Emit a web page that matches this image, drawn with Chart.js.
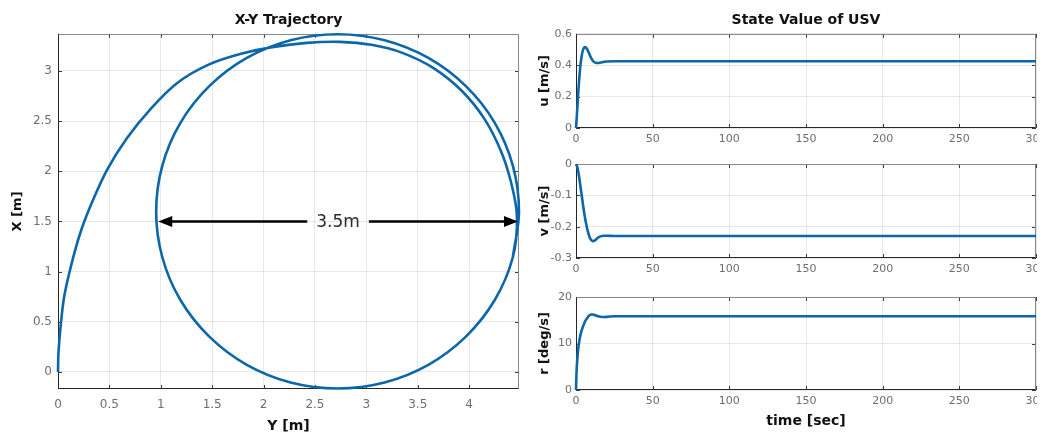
<!DOCTYPE html>
<html>
<head>
<meta charset="utf-8">
<script src="https://cdn.jsdelivr.net/npm/chart.js@4.4.1/dist/chart.umd.min.js"></script>
<style>
  html, body { margin: 0; padding: 0; background: #fff; width: 1043px; height: 436px; overflow: hidden; position: relative; }
  canvas { position: absolute; }
</style>
</head>
<body>
<canvas id="xy" width="530" height="436" style="left:0px;top:0px;width:530px;height:436px"></canvas>
<canvas id="cu" width="507" height="150" style="left:530px;top:0px;width:507px;height:150px"></canvas>
<canvas id="cv" width="507" height="130" style="left:530px;top:150px;width:507px;height:130px"></canvas>
<canvas id="cr" width="507" height="156" style="left:530px;top:280px;width:507px;height:156px"></canvas>
<script>
// ---- X-Y trajectory of the USV (Y east, X north, metres) ----
// start-up arc from the origin, then one full steady turning circle
const pathY = [0, 0.005, 0.025, 0.06, 0.125, 0.215, 0.335, 0.48, 0.67, 0.9, 1.16, 1.46, 1.78, 2.1, 2.42, 2.74, 3.05, 3.35, 3.65, 3.93, 4.15, 4.31, 4.41, 4.465,
  4.425, 4.249, 3.968, 3.603, 3.177, 2.72, 2.263, 1.837, 1.472, 1.191, 1.015, 0.955,
  1.015, 1.191, 1.472, 1.837, 2.263, 2.72, 3.177, 3.603, 3.968, 4.249, 4.425, 4.485, 4.425];
const pathX = [0, 0.2, 0.45, 0.75, 1.05, 1.38, 1.7, 2.02, 2.33, 2.62, 2.88, 3.06, 3.17, 3.24, 3.28, 3.29, 3.26, 3.18, 3.03, 2.8, 2.52, 2.2, 1.88, 1.55,
  1.143, 0.717, 0.352, 0.071, -0.105, -0.165, -0.105, 0.071, 0.352, 0.717, 1.143, 1.6,
  2.057, 2.483, 2.848, 3.129, 3.305, 3.365, 3.305, 3.129, 2.848, 2.483, 2.057, 1.6, 1.143];
const ticksYm = [0, 0.5, 1, 1.5, 2, 2.5, 3, 3.5, 4];
const ticksXm = [0, 0.5, 1, 1.5, 2, 2.5, 3];

// diameter marker across the steady circle
const diameterAtX = 1.5;
const diameterStartY = 0.975;
const diameterLength = 3.5;

// ---- state values over time ----
const timeU = [0, 0.5, 1, 1.5, 2, 2.5, 3, 4, 5, 6, 7, 8, 9, 10, 11, 12, 13, 14, 16, 18, 20, 25, 30, 300];
const surgeU = [0, 0.07, 0.15, 0.23, 0.3, 0.36, 0.41, 0.475, 0.508, 0.515, 0.506, 0.487, 0.464, 0.443, 0.428, 0.419, 0.415, 0.414, 0.417, 0.421, 0.424, 0.425, 0.425, 0.425];
const timeV = [0, 1, 2, 3, 4, 5, 6, 7, 8, 9, 10, 11, 12, 13, 14, 16, 18, 20, 25, 30, 300];
const swayV = [0, -0.012, -0.04, -0.075, -0.11, -0.145, -0.175, -0.2, -0.22, -0.235, -0.243, -0.246, -0.245, -0.241, -0.236, -0.231, -0.229, -0.229, -0.23, -0.23, -0.23];
const timeR = [0, 0.3, 0.7, 1.5, 2.5, 3.5, 5, 6, 7, 8, 9, 10, 11, 12, 14, 16, 18, 20, 22, 25, 30, 300];
const yawR = [0, 3.5, 6, 9, 11.2, 12.6, 14, 14.8, 15.3, 15.8, 16.1, 16.25, 16.25, 16.15, 15.9, 15.75, 15.7, 15.72, 15.8, 15.85, 15.85, 15.85];
const ticksTime = [0, 50, 100, 150, 200, 250, 300];
const ticksU = [0, 0.2, 0.4, 0.6];
const ticksV = [-0.3, -0.2, -0.1, 0];
const ticksR = [0, 10, 20];

const BLUE = '#0b67a9';
const FONT = 'DejaVu Sans';
Chart.defaults.font.family = FONT;

const fmt = v => String(+Number(v).toFixed(3));
const toPoints = (xs, ys) => xs.map((x, i) => ({ x, y: ys[i] }));

// axes frame with inward tick marks on all four sides
const axesBox = {
  id: 'axesBox',
  beforeDatasetsDraw(chart) {
    const { ctx, chartArea: a, scales: { x, y } } = chart;
    ctx.save();
    ctx.lineWidth = 1;
    ctx.strokeStyle = '#3a3a3a';
    ctx.beginPath();
    x.ticks.forEach(t => {
      const px = Math.round(x.getPixelForValue(t.value)) + 0.5;
      ctx.moveTo(px, a.bottom); ctx.lineTo(px, a.bottom - 4);
      ctx.moveTo(px, a.top); ctx.lineTo(px, a.top + 4);
    });
    y.ticks.forEach(t => {
      const py = Math.round(y.getPixelForValue(t.value)) + 0.5;
      ctx.moveTo(a.left, py); ctx.lineTo(a.left + 4, py);
      ctx.moveTo(a.right, py); ctx.lineTo(a.right - 4, py);
    });
    ctx.stroke();
    const L = Math.round(a.left) + 0.5, R = Math.round(a.right) - 0.5;
    const T = Math.round(a.top) + 0.5, B = Math.round(a.bottom) - 0.5;
    ctx.strokeStyle = '#888';
    ctx.beginPath();
    ctx.moveTo(L, T); ctx.lineTo(R, T); ctx.lineTo(R, B);
    ctx.stroke();
    ctx.strokeStyle = '#262626';
    ctx.beginPath();
    ctx.moveTo(L, T); ctx.lineTo(L, B); ctx.lineTo(R, B);
    ctx.stroke();
    ctx.restore();
  }
};

// double-headed arrow with its length written in the middle
const diameterArrow = {
  id: 'diameterArrow',
  afterDatasetsDraw(chart) {
    const { ctx, scales: { x, y } } = chart;
    const x0 = x.getPixelForValue(diameterStartY);
    const x1 = x.getPixelForValue(diameterStartY + diameterLength);
    const py = y.getPixelForValue(diameterAtX);
    const label = diameterLength + 'm';
    const head = 14, half = 5.5;
    ctx.save();
    ctx.font = '17px ' + FONT;
    const tw = ctx.measureText(label).width;
    const mid = (x0 + x1) / 2;
    const gap = tw / 2 + 9;
    ctx.strokeStyle = '#000';
    ctx.fillStyle = '#000';
    ctx.lineWidth = 2.5;
    ctx.beginPath();
    ctx.moveTo(x0 + head - 1, py); ctx.lineTo(mid - gap, py);
    ctx.moveTo(mid + gap, py); ctx.lineTo(x1 - head + 1, py);
    ctx.stroke();
    ctx.beginPath();
    ctx.moveTo(x0, py); ctx.lineTo(x0 + head, py - half); ctx.lineTo(x0 + head, py + half); ctx.closePath();
    ctx.moveTo(x1, py); ctx.lineTo(x1 - head, py - half); ctx.lineTo(x1 - head, py + half); ctx.closePath();
    ctx.fill();
    ctx.fillStyle = '#2a2a2a';
    ctx.textAlign = 'center';
    ctx.textBaseline = 'middle';
    ctx.fillText(label, mid, py + 1);
    ctx.restore();
  }
};

function axis(opts) {
  return {
    type: 'linear',
    min: opts.min, max: opts.max,
    afterBuildTicks: s => { s.ticks = opts.ticks.map(v => ({ value: v })); },
    afterFit: s => {
      if (opts.width !== undefined) s.width = opts.width;
      if (opts.height !== undefined) s.height = opts.height;
      if (opts.noEdgePad) { s.paddingLeft = 0; s.paddingRight = 0; }
    },
    ticks: { callback: fmt, color: '#6e6e6e', font: { size: opts.tickSize, family: FONT }, padding: opts.tickPad, maxRotation: 0, autoSkip: false },
    grid: { color: 'rgba(0,0,0,0.09)', drawTicks: false, lineWidth: 1 },
    border: { display: false },
    title: opts.title ? { display: true, text: opts.title, color: '#111', font: { size: opts.titleSize, weight: 'bold', family: FONT }, padding: opts.titlePad } : { display: false }
  };
}

function seriesSet(points, tension, mode) {
  return {
    data: points, showLine: true, borderColor: BLUE, backgroundColor: BLUE,
    borderWidth: 2.6, pointRadius: 0, fill: false, tension: tension,
    cubicInterpolationMode: mode, clip: 4
  };
}

function baseOptions(padding, title) {
  return {
    responsive: false, animation: false, events: [],
    layout: { padding },
    elements: { line: { capBezierPoints: false } },
    plugins: {
      legend: { display: false },
      tooltip: { enabled: false },
      title: title ? { display: true, fullSize: false, text: title, color: '#111', font: { size: 14, weight: 'bold', family: FONT }, padding: { top: 12, bottom: 5 } } : { display: false }
    }
  };
}

// X-Y trajectory
const xyOpts = baseOptions({ left: 0, right: 11, top: 0, bottom: 0 }, 'X-Y Trajectory');
xyOpts.scales = {
  x: axis({ min: 0, max: 4.485, ticks: ticksYm, height: 47, tickSize: 12, tickPad: 9, title: 'Y [m]', titleSize: 14, titlePad: { top: 0, bottom: 1 } }),
  y: axis({ min: -0.17, max: 3.37, ticks: ticksXm, width: 58, tickSize: 12, tickPad: 6, title: 'X [m]', titleSize: 13, titlePad: { top: 10, bottom: 0 } })
};
new Chart(document.getElementById('xy'), {
  type: 'scatter',
  data: { datasets: [seriesSet(toPoints(pathY, pathX), 0.35, 'default')] },
  options: xyOpts,
  plugins: [axesBox, diameterArrow]
});

// state value panels
function statePanel(id, times, values, yMin, yMax, yTicks, yTitle, pad, xHeight, title, xTitle) {
  const o = baseOptions(pad, title);
  o.scales = {
    x: axis({ min: 0, max: 300, ticks: ticksTime, height: xHeight, tickSize: 11, tickPad: 5, title: xTitle, titleSize: 14, titlePad: { top: 0, bottom: 6 }, noEdgePad: true }),
    y: axis({ min: yMin, max: yMax, ticks: yTicks, width: 46, tickSize: 11, tickPad: 4, title: yTitle, titleSize: 13, titlePad: { top: 7, bottom: 0 } })
  };
  new Chart(document.getElementById(id), {
    type: 'scatter',
    data: { datasets: [seriesSet(toPoints(times, values), 0, 'monotone')] },
    options: o,
    plugins: [axesBox]
  });
}

statePanel('cu', timeU, surgeU, 0, 0.6, ticksU, 'u [m/s]', { left: 0, right: 1, top: 0, bottom: 0 }, 22, 'State Value of USV', null);
statePanel('cv', timeV, swayV, -0.3, 0, ticksV, 'v [m/s]', { left: 0, right: 1, top: 14, bottom: 0 }, 22, null, null);
statePanel('cr', timeR, yawR, 0, 20, ticksR, 'r [deg/s]', { left: 0, right: 1, top: 17, bottom: 0 }, 46, null, 'time [sec]');
</script>
</body>
</html>
